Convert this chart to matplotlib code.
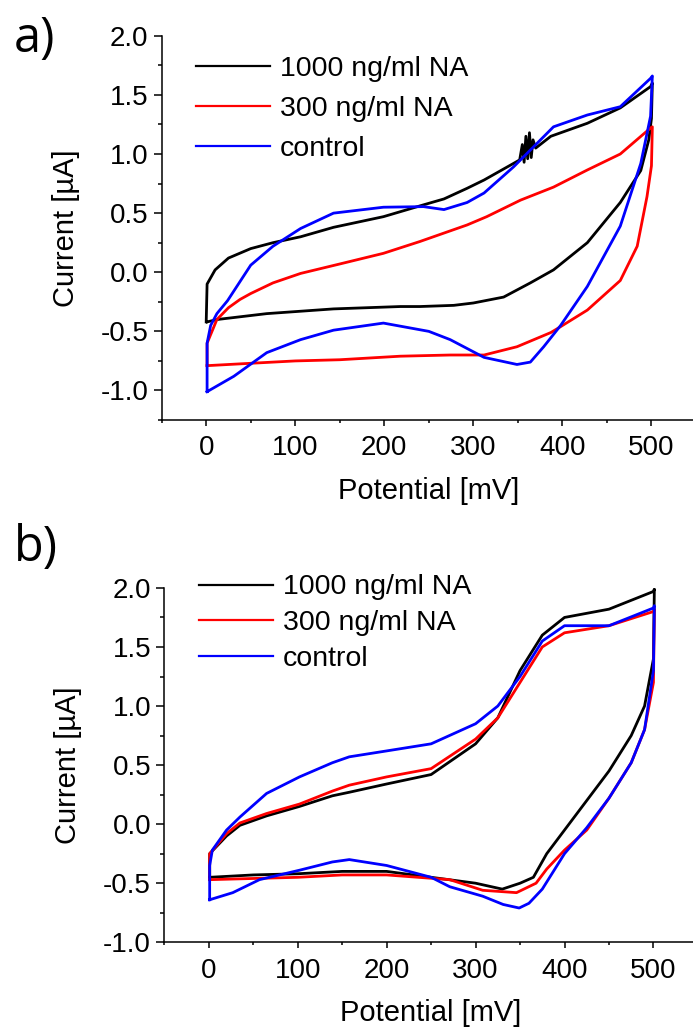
import matplotlib
matplotlib.use("Agg")
import matplotlib.pyplot as plt
from matplotlib.ticker import MultipleLocator

plt.rcParams['font.family'] = ['Liberation Sans', 'DejaVu Sans']

labels = ['1000 ng/ml NA', '300 ng/ml NA', 'control']
colors = ['black', 'red', 'blue']

# panel a) -- full loops, upper branch 0->500 then lower branch 500->0
a_black_mv = [0, 1, 10, 25, 50, 75, 106, 143, 199, 244, 267, 293, 312, 345, 352, 355, 357, 359, 361, 363, 365, 367, 370, 387, 428, 465, 499, 501,
              500, 497, 488, 465, 428, 390, 364, 334, 300, 278, 240, 218, 143, 68, 12, 1]
a_black_ua = [-0.42, -0.10, 0.02, 0.12, 0.20, 0.25, 0.30, 0.38, 0.47, 0.57, 0.62, 0.71, 0.78, 0.92, 0.95, 1.08, 0.93, 1.15, 0.96, 1.18, 0.97, 1.12, 1.05, 1.15, 1.26, 1.39, 1.57, 1.60,
              1.30, 1.12, 0.86, 0.59, 0.25, 0.02, -0.09, -0.21, -0.26, -0.28, -0.29, -0.29, -0.31, -0.35, -0.40, -0.42]

a_red_mv = [1, 1, 12, 25, 38, 50, 75, 106, 150, 199, 240, 293, 315, 353, 390, 428, 465, 499, 501,
            500, 495, 484, 465, 428, 398, 387, 349, 312, 274, 218, 150, 100, 50, 1]
a_red_ua = [-0.79, -0.60, -0.40, -0.30, -0.23, -0.18, -0.09, -0.01, 0.07, 0.16, 0.26, 0.40, 0.47, 0.61, 0.72, 0.865, 1.00, 1.22, 1.23,
            0.90, 0.64, 0.22, -0.07, -0.32, -0.46, -0.51, -0.63, -0.70, -0.70, -0.71, -0.74, -0.75, -0.77, -0.79]

a_blue_mv = [1, 1, 5, 12, 24, 50, 75, 106, 143, 199, 244, 267, 293, 312, 345, 390, 428, 465, 499, 501,
             499, 488, 465, 428, 398, 379, 364, 349, 312, 274, 250, 199, 143, 106, 68, 31, 1]
a_blue_ua = [-1.01, -0.60, -0.45, -0.35, -0.24, 0.06, 0.22, 0.37, 0.50, 0.55, 0.555, 0.53, 0.59, 0.67, 0.89, 1.23, 1.33, 1.40, 1.64, 1.66,
             1.32, 0.92, 0.39, -0.12, -0.45, -0.63, -0.76, -0.78, -0.72, -0.57, -0.50, -0.43, -0.49, -0.57, -0.68, -0.88, -1.01]

# panel b)
b_black_mv = [1, 1, 20, 35, 65, 102, 139, 158, 200, 250, 300, 325, 350, 375, 400, 450, 500, 501,
              500, 490, 475, 450, 425, 400, 380, 365, 350, 330, 300, 250, 200, 150, 100, 50, 1]
b_black_ua = [-0.45, -0.25, -0.10, -0.01, 0.07, 0.15, 0.24, 0.27, 0.34, 0.42, 0.68, 0.90, 1.30, 1.60, 1.75, 1.82, 1.97, 1.99,
              1.40, 1.00, 0.75, 0.45, 0.20, -0.05, -0.25, -0.45, -0.50, -0.55, -0.50, -0.45, -0.40, -0.40, -0.42, -0.43, -0.45]

b_red_mv = [1, 1, 20, 35, 65, 102, 139, 158, 200, 250, 300, 325, 350, 375, 400, 450, 500, 501,
            500, 490, 475, 450, 425, 400, 380, 368, 346, 308, 271, 200, 150, 100, 50, 1]
b_red_ua = [-0.47, -0.25, -0.08, 0.01, 0.09, 0.17, 0.28, 0.33, 0.40, 0.47, 0.72, 0.90, 1.20, 1.50, 1.62, 1.68, 1.80, 1.82,
            1.20, 0.80, 0.52, 0.22, -0.05, -0.22, -0.38, -0.50, -0.58, -0.56, -0.47, -0.43, -0.43, -0.45, -0.46, -0.47]

b_blue_mv = [1, 1, 4, 20, 35, 65, 102, 139, 158, 200, 250, 300, 325, 350, 375, 400, 450, 500, 501,
             500, 490, 475, 450, 425, 400, 375, 360, 349, 331, 308, 271, 250, 200, 158, 139, 102, 57, 27, 1]
b_blue_ua = [-0.64, -0.35, -0.22, -0.05, 0.06, 0.26, 0.40, 0.52, 0.57, 0.62, 0.68, 0.85, 1.00, 1.25, 1.55, 1.68, 1.68, 1.83, 1.85,
             1.30, 0.80, 0.52, 0.22, -0.03, -0.25, -0.55, -0.67, -0.71, -0.68, -0.61, -0.53, -0.45, -0.35, -0.30, -0.32, -0.39, -0.47, -0.58, -0.64]

panels = [
    ('a)', [(a_black_mv, a_black_ua), (a_red_mv, a_red_ua), (a_blue_mv, a_blue_ua)], (-1.25, 2.0), 0.5, 0.978),
    ('b)', [(b_black_mv, b_black_ua), (b_red_mv, b_red_ua), (b_blue_mv, b_blue_ua)], (-1.0, 2.0), 0.35, 1.07),
]
positions = [[0.2333, 0.5914, 0.771, 0.3738], [0.2371, 0.0834, 0.770, 0.3447]]
tag_y = [0.962, 0.467]

fig = plt.figure(figsize=(6.93, 10.28), dpi=100)

for k, (tag, curves, ylim, lspace, leg_y) in enumerate(panels):
    ax = fig.add_axes(positions[k])
    for (mv, ua), c, lab in zip(curves, colors, labels):
        ax.plot(mv, ua, color=c, lw=2.0, label=lab)
    ax.set_xlim(-50, 550)
    ax.set_ylim(*ylim)
    ax.xaxis.set_major_locator(MultipleLocator(100))
    ax.xaxis.set_minor_locator(MultipleLocator(50))
    ax.yaxis.set_major_locator(MultipleLocator(0.5))
    ax.yaxis.set_minor_locator(MultipleLocator(0.25))
    ax.yaxis.set_major_formatter(plt.FormatStrFormatter('%.1f'))
    ax.spines['top'].set_visible(False)
    ax.spines['right'].set_visible(False)
    ax.spines['left'].set_linewidth(1.1)
    ax.spines['bottom'].set_linewidth(1.1)
    ax.tick_params(which='both', direction='out', width=1.1, labelsize=20)
    ax.tick_params(axis='x', which='major', length=4, pad=7)
    ax.tick_params(axis='x', which='minor', length=2.5)
    ax.tick_params(axis='y', which='major', length=5.5, pad=4)
    ax.tick_params(axis='y', which='minor', length=3)
    ax.set_xlabel('Potential [mV]', fontsize=21, labelpad=11)
    ax.set_ylabel('Current [µA]', fontsize=21, labelpad=15)
    leg = ax.legend(loc='upper left', bbox_to_anchor=(0.043, leg_y), frameon=False, fontsize=20.5,
                    handlelength=2.6, handletextpad=0.35, labelspacing=lspace, borderaxespad=0)
    for ln in leg.get_lines():
        ln.set_linewidth(1.6)
    fig.text(0.02, tag_y[k], tag, fontsize=35, family='Open Sans', va='center', ha='left')

fig.savefig('out.png', dpi=100)
